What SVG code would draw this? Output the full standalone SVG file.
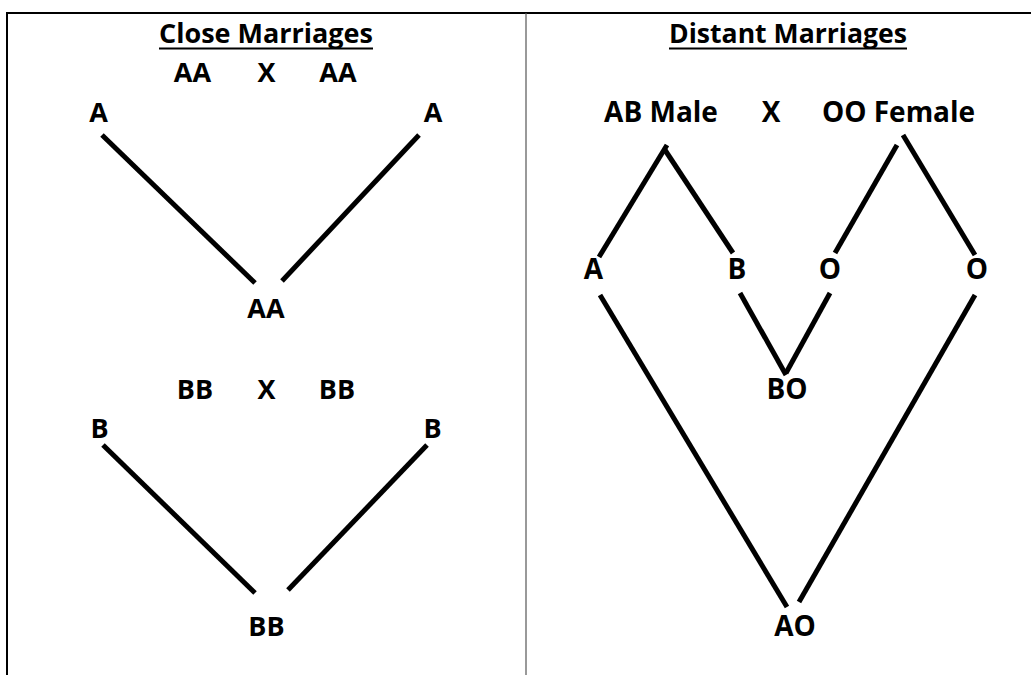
<svg xmlns="http://www.w3.org/2000/svg" width="1031" height="675" viewBox="0 0 1031 675">
<style>
text{font-family:"Open Sans","Noto Sans","Liberation Sans",sans-serif;font-weight:700;fill:#000;text-anchor:middle}
.t{font-size:26px}
.l{font-size:27px}
.r{font-size:28px}
.c line{stroke:#000;stroke-width:5;stroke-linecap:butt}
.u{stroke:#000;stroke-width:2}
</style>
<rect width="1031" height="675" fill="#fff"/>
<g id="frame">
<line x1="6" y1="13" x2="1031" y2="13" stroke="#000" stroke-width="2"/>
<line x1="7" y1="12" x2="7" y2="675" stroke="#000" stroke-width="2"/>
<line x1="526" y1="13" x2="526" y2="675" stroke="#555" stroke-width="1.2"/>
</g>
<g id="title-close"><text class="t" x="266" y="43" textLength="214" lengthAdjust="spacingAndGlyphs">Close Marriages</text><line class="u" x1="159" y1="48.5" x2="373" y2="48.5"/></g>
<g id="title-distant"><text class="t" x="788" y="43" textLength="238" lengthAdjust="spacingAndGlyphs">Distant Marriages</text><line class="u" x1="669" y1="48.5" x2="907" y2="48.5"/></g>
<g id="aa-cross"><text class="l" x="192.5" y="82">AA</text><text class="l" x="266.5" y="82">X</text><text class="l" x="338" y="82">AA</text></g>
<g id="a-left"><text class="l" x="98.5" y="122">A</text></g>
<g id="a-right"><text class="l" x="433" y="122">A</text></g>
<g id="aa-child"><text class="l" x="266" y="318">AA</text></g>
<g id="bb-cross"><text class="l" x="195" y="399">BB</text><text class="l" x="266.5" y="399">X</text><text class="l" x="337" y="399">BB</text></g>
<g id="b-left"><text class="l" x="99.5" y="438">B</text></g>
<g id="b-right"><text class="l" x="432.5" y="438">B</text></g>
<g id="bb-child"><text class="l" x="266.5" y="636">BB</text></g>
<g id="ab-male"><text class="r" x="661" y="122">AB Male</text></g>
<g id="x-distant"><text class="r" x="771" y="122">X</text></g>
<g id="oo-female"><text class="r" x="898.5" y="122">OO Female</text></g>
<g id="gam-a"><text class="r" x="593.5" y="279">A</text></g>
<g id="gam-b"><text class="r" x="737" y="279">B</text></g>
<g id="gam-o1"><text class="r" x="830" y="279">O</text></g>
<g id="gam-o2"><text class="r" x="977" y="279">O</text></g>
<g id="bo-child"><text class="r" x="787" y="399">BO</text></g>
<g id="ao-child"><text class="r" x="795" y="636">AO</text></g>
<g id="connectors" class="c">
<line x1="102" y1="135" x2="255" y2="283"/>
<line x1="419" y1="135" x2="282" y2="281"/>
<line x1="103" y1="445" x2="255" y2="593"/>
<line x1="427" y1="445" x2="288" y2="590"/>
<line x1="667" y1="145" x2="599" y2="257"/>
<line x1="665" y1="150" x2="733" y2="253"/>
<line x1="897" y1="145" x2="835" y2="253"/>
<line x1="903" y1="135" x2="975" y2="255"/>
<line x1="600" y1="295" x2="787" y2="607"/>
<line x1="740" y1="293" x2="786" y2="375"/>
<line x1="830" y1="293" x2="786" y2="373"/>
<line x1="975" y1="295" x2="799" y2="602"/>
</g>
</svg>
